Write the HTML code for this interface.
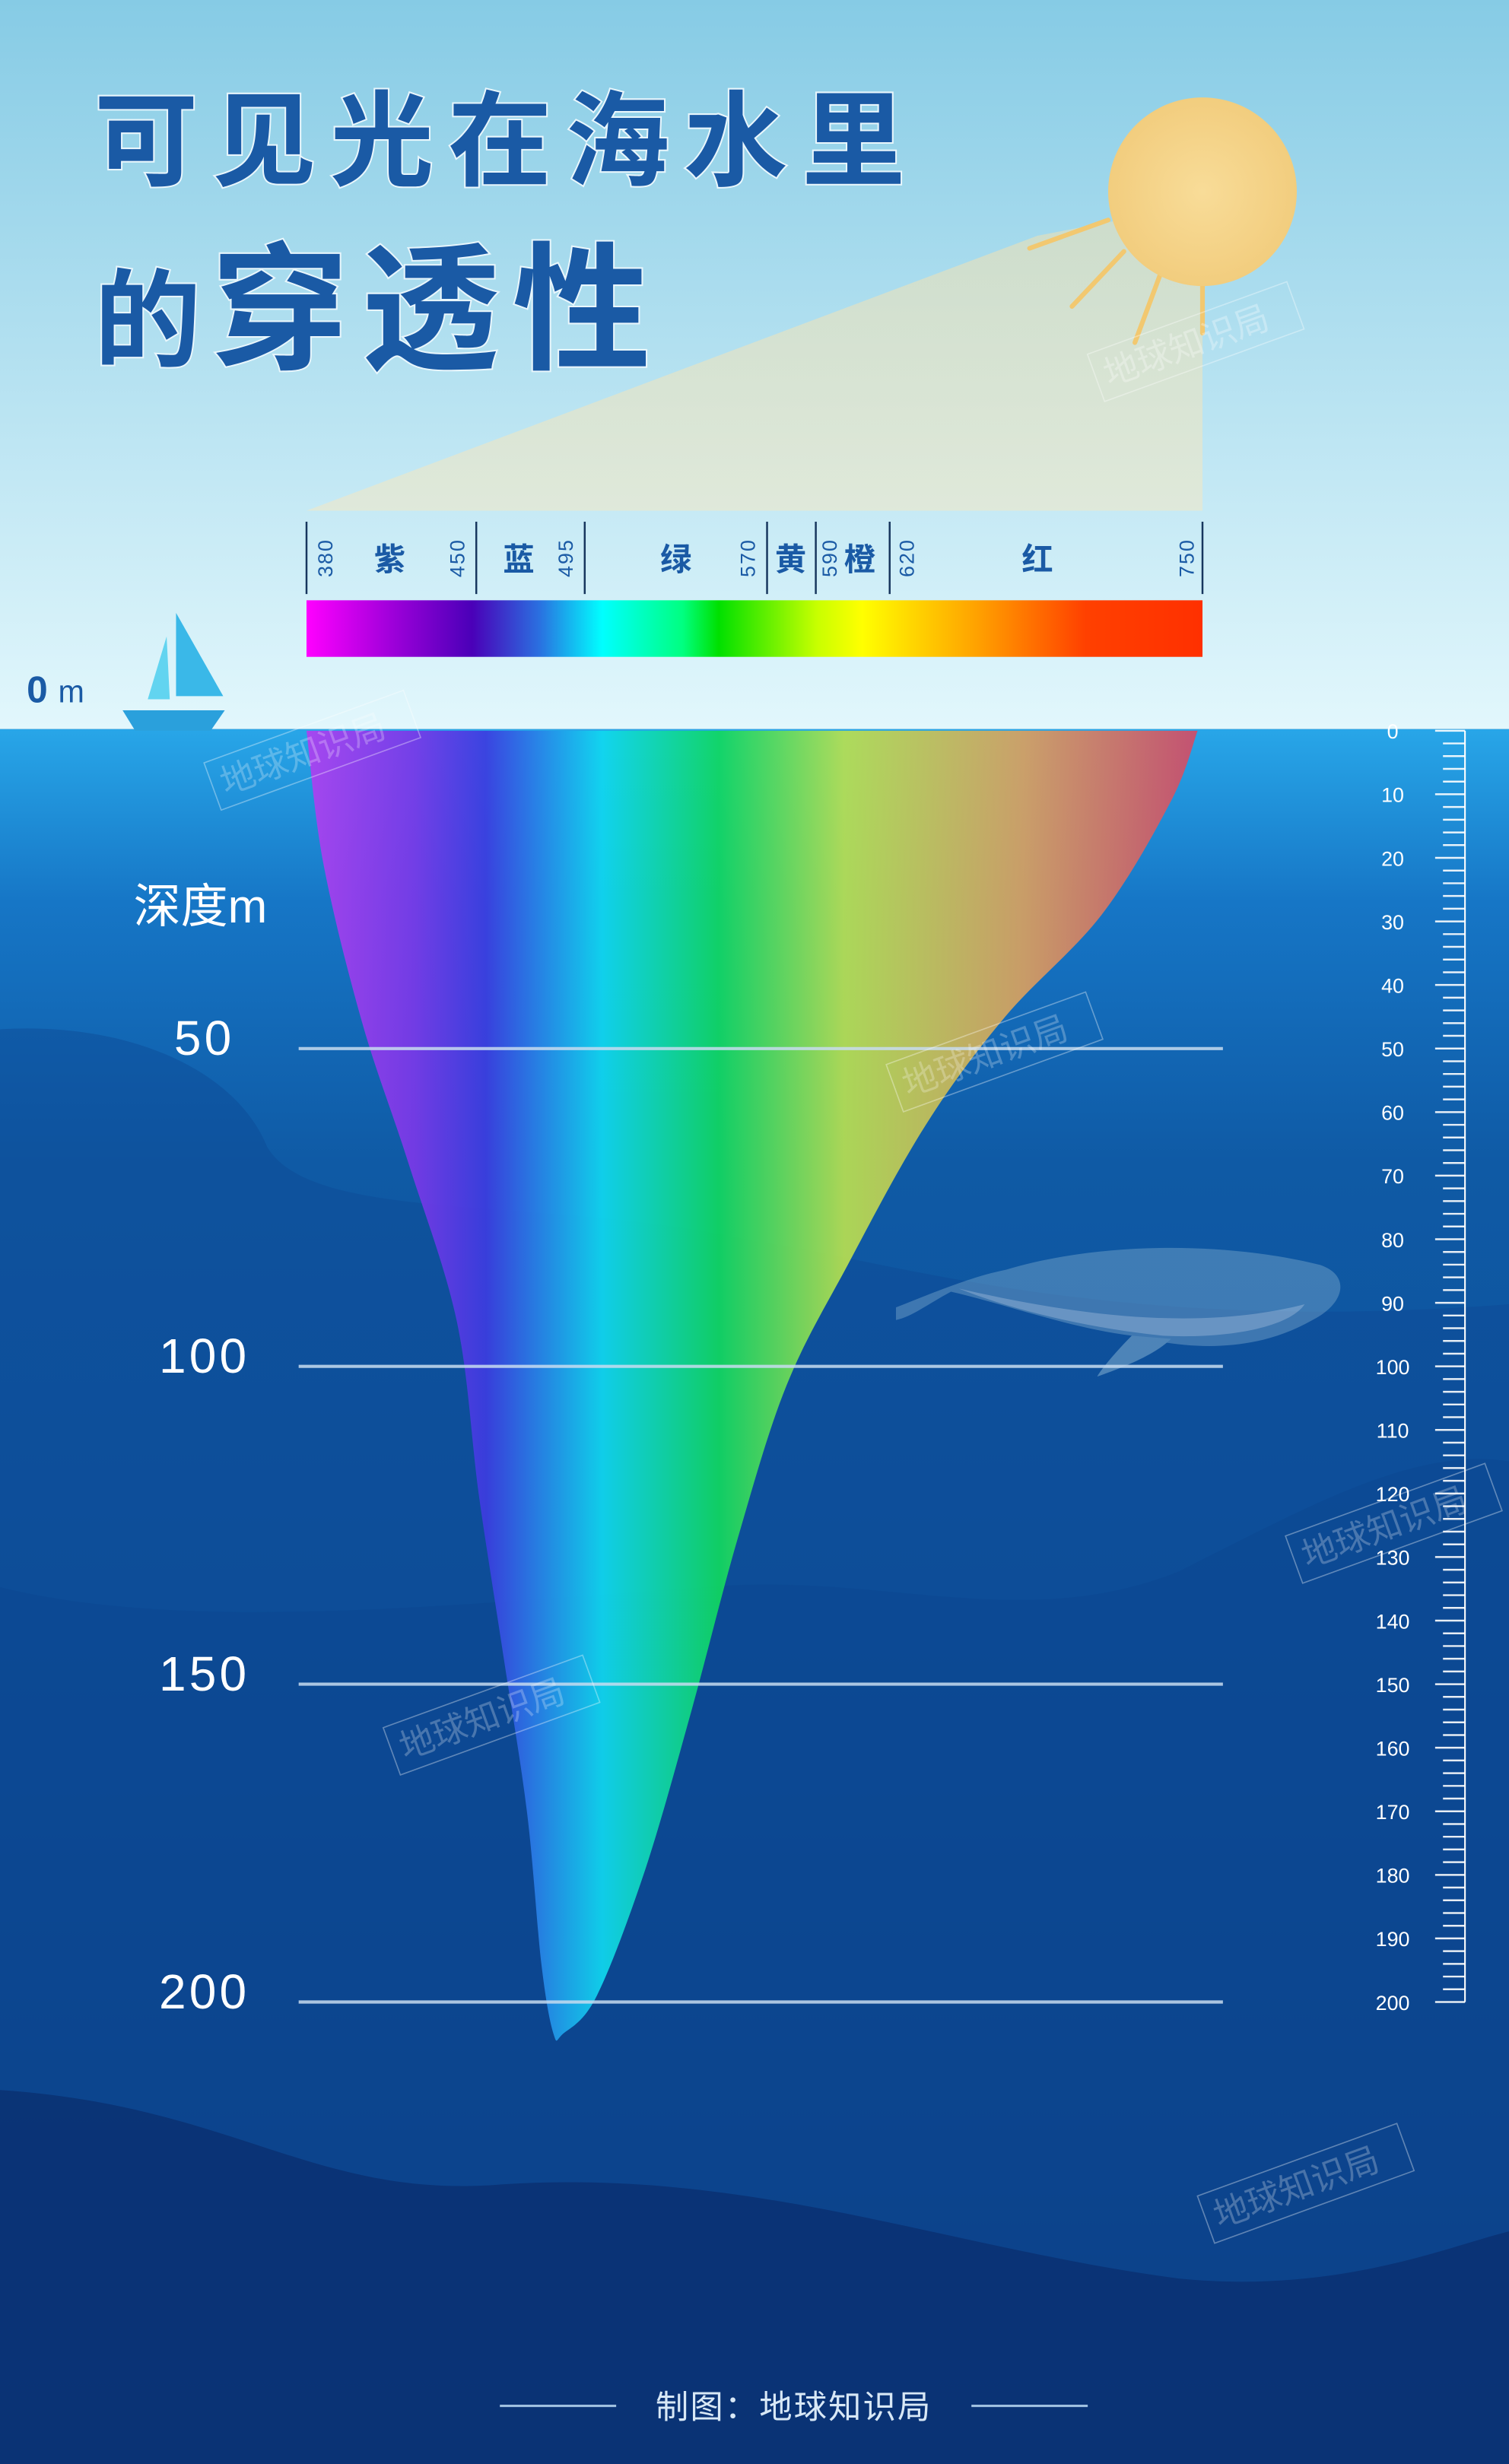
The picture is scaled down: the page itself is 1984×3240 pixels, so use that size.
<!DOCTYPE html>
<html><head><meta charset="utf-8">
<style>
html,body{margin:0;padding:0;background:#0d4c92;}
svg{display:block;font-family:"Liberation Sans","Noto Sans CJK SC",sans-serif;}
</style></head>
<body>
<svg id="chart" width="1984" height="3240" viewBox="0 0 960 1568" preserveAspectRatio="none" xmlns="http://www.w3.org/2000/svg">
<defs>
 <linearGradient id="sky" x1="0" y1="0" x2="0" y2="1">
  <stop offset="0" stop-color="#86cbe5"/><stop offset="1" stop-color="#e2f7fc"/>
 </linearGradient>
 <linearGradient id="water" x1="0" y1="0" x2="0" y2="1">
  <stop offset="0" stop-color="#28a6e8"/><stop offset="0.1" stop-color="#1676c6"/>
  <stop offset="0.25" stop-color="#0f5aa5"/><stop offset="0.6" stop-color="#0d4d98"/>
  <stop offset="1" stop-color="#0a3272"/>
 </linearGradient>
 <linearGradient id="spec" gradientUnits="userSpaceOnUse" x1="195" y1="0" x2="765" y2="0">
  <stop offset="0" stop-color="#ff00ff"/><stop offset="0.1" stop-color="#9a00d8"/>
  <stop offset="0.185" stop-color="#4a00b8"/><stop offset="0.26" stop-color="#2a70e0"/>
  <stop offset="0.33" stop-color="#00ffff"/><stop offset="0.42" stop-color="#00ff80"/>
  <stop offset="0.46" stop-color="#00e000"/><stop offset="0.57" stop-color="#c8ff00"/>
  <stop offset="0.62" stop-color="#ffff00"/><stop offset="0.75" stop-color="#ffa000"/>
  <stop offset="0.87" stop-color="#ff4000"/><stop offset="1" stop-color="#ff3000"/>
 </linearGradient>
 <linearGradient id="funnelGrad" gradientUnits="userSpaceOnUse" x1="195" y1="0" x2="765" y2="0">
  <stop offset="0" stop-color="#b040f0"/><stop offset="0.12" stop-color="#7a38e8"/>
  <stop offset="0.2" stop-color="#3c3ce0"/><stop offset="0.33" stop-color="#10d8f0"/>
  <stop offset="0.46" stop-color="#10d860"/><stop offset="0.6" stop-color="#b8e050"/>
  <stop offset="0.8" stop-color="#d8a060"/><stop offset="1" stop-color="#d04868"/>
 </linearGradient>
 <linearGradient id="beam" x1="0" y1="0" x2="0" y2="1">
  <stop offset="0" stop-color="#f0e0b0" stop-opacity="0.55"/><stop offset="1" stop-color="#f0e8c8" stop-opacity="0.6"/>
 </linearGradient>
 <radialGradient id="sunG"><stop offset="0" stop-color="#f8dc98"/><stop offset="1" stop-color="#f2cd7e"/></radialGradient>
</defs>

<rect x="0" y="0" width="960" height="464" fill="url(#sky)"/>
<rect x="0" y="464" width="960" height="1104" fill="url(#water)"/>
<path d="M0 655 C80 650 150 680 170 730 C200 780 350 760 480 790 C560 800 700 850 960 830 L960 1568 L0 1568Z" fill="#0d4a94" opacity="0.45"/>
<path d="M0 1010 C120 1040 300 1020 450 1010 C560 1000 650 1040 750 1000 C830 960 900 920 960 930 L960 1568 L0 1568Z" fill="#0b4590" opacity="0.5"/>
<path d="M0 1330 C150 1340 200 1400 320 1390 C480 1380 600 1430 750 1450 C850 1460 920 1430 960 1420 L960 1568 L0 1568Z" fill="#0a3070" opacity="0.8"/>

<polygon points="195,325 765,325 765,130 660,150" fill="url(#beam)"/>
<g>
 <g stroke="#f2c870" stroke-width="3" stroke-linecap="round">
  <line x1="705" y1="140" x2="655" y2="158"/><line x1="715" y1="160" x2="682" y2="195"/>
  <line x1="738" y1="175" x2="722" y2="218"/><line x1="765" y1="182" x2="765" y2="212"/>
 </g>
 <circle cx="765" cy="122" r="60" fill="url(#sunG)"/>
</g>

<g fill="#1a5aa5" font-weight="bold" style="paint-order:stroke" stroke="#e8f6fc" stroke-width="2">
 <text x="60" y="113" font-size="66" letter-spacing="9">可见光在海水里</text>
 <text x="60" y="228" font-size="68"><tspan>的</tspan><tspan font-size="88" dx="6" letter-spacing="8">穿透性</tspan></text>
</g>

<g id="spectrum"></g>
<rect x="195" y="382" width="570" height="36" fill="url(#spec)"/>

<g>
 <polygon points="112,390 142,443 112,443" fill="#3ab8e8"/>
 <polygon points="106,405 108,445 94,445" fill="#62d4f0"/>
 <polygon points="78,452 143,452 134,465 86,465" fill="#2aa0dc"/>
</g>
<text x="17" y="447" font-size="24" fill="#1a5aa5" font-weight="bold">0 <tspan font-size="20" font-weight="normal">m</tspan></text>

<path id="funnel" fill="url(#funnelGrad)" opacity="0.92"/>

<g opacity="0.45">
 <path d="M570 832 C600 820 620 812 640 808 C700 790 780 790 840 805 C860 812 855 830 835 840 C800 860 760 860 720 850 C680 845 640 830 605 822 C590 830 580 838 570 840Z" fill="#7aa8cc"/>
 <path d="M610 820 C680 836 760 848 830 830 C820 845 780 852 740 850 C700 846 650 836 610 820Z" fill="#d8e8f4"/>
 <path d="M720 850 C710 860 700 872 698 876 C715 870 735 862 745 852Z" fill="#9cc4dc"/>
</g>

<g id="depthLines"></g>
<text x="85" y="587" font-size="30" fill="#ffffff">深度m</text>
<g id="ruler"></g>

<g font-size="22" fill="none" stroke="#ffffff" stroke-opacity="0.35" stroke-width="0.8">
 <g transform="translate(700,248) rotate(-20)"><rect x="0" y="-24" width="135" height="32" stroke="#ffffff"/><text x="6" y="0" fill="#ffffff" fill-opacity="0.3" stroke="none">地球知识局</text></g>
 <g transform="translate(138,508) rotate(-20)"><rect x="0" y="-24" width="135" height="32" stroke="#ffffff"/><text x="6" y="0" fill="#ffffff" fill-opacity="0.25" stroke="none">地球知识局</text></g>
 <g transform="translate(572,700) rotate(-20)"><rect x="0" y="-24" width="135" height="32" stroke="#ffffff"/><text x="6" y="0" fill="#ffffff" fill-opacity="0.25" stroke="none">地球知识局</text></g>
 <g transform="translate(826,1000) rotate(-20)"><rect x="0" y="-24" width="135" height="32" stroke="#ffffff"/><text x="6" y="0" fill="#ffffff" fill-opacity="0.25" stroke="none">地球知识局</text></g>
 <g transform="translate(252,1122) rotate(-20)"><rect x="0" y="-24" width="135" height="32" stroke="#ffffff"/><text x="6" y="0" fill="#ffffff" fill-opacity="0.25" stroke="none">地球知识局</text></g>
 <g transform="translate(770,1420) rotate(-20)"><rect x="0" y="-24" width="135" height="32" stroke="#ffffff"/><text x="6" y="0" fill="#ffffff" fill-opacity="0.25" stroke="none">地球知识局</text></g>
</g>

<g>
 <line x1="318" y1="1531" x2="392" y2="1531" stroke="#9fc0e0" stroke-width="1.5"/>
 <line x1="618" y1="1531" x2="692" y2="1531" stroke="#9fc0e0" stroke-width="1.5"/>
 <text x="505" y="1539" font-size="21" fill="#d8e8f6" text-anchor="middle" letter-spacing="1">制图：地球知识局</text>
</g>
</svg>

<script>
// ---- data ----
var bandWavelengths = [380, 450, 495, 570, 590, 620, 750];
var bandNames = ["紫", "蓝", "绿", "黄", "橙", "红"];
var depthMarks = [50, 100, 150, 200];
var rulerLabels = [0,10,20,30,40,50,60,70,80,90,100,110,120,130,140,150,160,170,180,190,200];
var funnelWavelengths = [380,387,403,422,442,451,461,471,477,482,486,500,520,539,558,578,603,635,668,708,737,748];
var funnelDepths =      [0,  21, 46, 68, 93, 120,145,170,194,205,205,199,179,154,127,103,84, 62, 45, 29, 11, 0];

// ---- axis functions ----
var NS = "http://www.w3.org/2000/svg";
var bandX = [195, 303, 372, 488, 519, 566, 765];
var numOffsets = [12, -12, -12, -12, 9, 11, -10];
var nameX = [248, 330, 430, 503, 547, 660];
function xWl(w){
  for(var i=0;i<bandWavelengths.length-1;i++){
    var a=bandWavelengths[i], b=bandWavelengths[i+1];
    if(w<=b || i===bandWavelengths.length-2){
      return bandX[i]+(w-a)/(b-a)*(bandX[i+1]-bandX[i]);
    }
  }
  return bandX[bandX.length-1];
}
function yDepth(d){ return 465 + d*4.045; }
function mk(tag, attrs, parent){ var e=document.createElementNS(NS,tag); for(var k in attrs){ e.setAttribute(k,String(attrs[k])); } parent.appendChild(e); return e; }

// spectrum legend
var spec = document.getElementById("spectrum");
bandWavelengths.forEach(function(w,i){
  var x = xWl(w);
  var l = mk("line",{x1:x,y1:332,x2:x,y2:378,stroke:"#17365e","stroke-width":1.2},spec);
  
  
  var tx = x + numOffsets[i];
  var t = mk("text",{x:tx,y:355,"font-size":13,fill:"#1a5aa5","text-anchor":"middle","dominant-baseline":"central",transform:"rotate(-90 "+tx+" 355)","letter-spacing":1},spec);
  t.textContent = String(w);
  
  
});
bandNames.forEach(function(n,i){
  var t = mk("text",{x:nameX[i],y:363,"font-size":20,"font-weight":"bold",fill:"#1a5aa5","text-anchor":"middle"},spec);
  t.textContent = n;
  
  
});

// funnel (smoothed through data points)
var pts = funnelWavelengths.map(function(w,i){ return [xWl(w), yDepth(funnelDepths[i])]; });
var d = "M" + pts[0][0].toFixed(1) + " " + pts[0][1].toFixed(1);
for(var i=0;i<pts.length-1;i++){
  var p0 = pts[Math.max(0,i-1)], p1 = pts[i], p2 = pts[i+1], p3 = pts[Math.min(pts.length-1,i+2)];
  var c1x = p1[0]+(p2[0]-p0[0])/6, c1y = p1[1]+(p2[1]-p0[1])/6;
  var c2x = p2[0]-(p3[0]-p1[0])/6, c2y = p2[1]-(p3[1]-p1[1])/6;
  d += " C"+c1x.toFixed(1)+" "+c1y.toFixed(1)+" "+c2x.toFixed(1)+" "+c2y.toFixed(1)+" "+p2[0].toFixed(1)+" "+p2[1].toFixed(1);
}
document.getElementById("funnel").setAttribute("d", d+" Z");

// depth lines
var dl = document.getElementById("depthLines");
depthMarks.forEach(function(m){
  var y = yDepth(m);
  var ln = mk("line",{x1:190,y1:y,x2:778,y2:y,stroke:"#c8dcf0","stroke-width":2,"stroke-opacity":0.85},dl);
  
  
  var t = mk("text",{x:130,y:y+4,"font-size":31,fill:"#ffffff","text-anchor":"middle","letter-spacing":2},dl);
  t.textContent = String(m);
  
  
});

// ruler
var ru = document.getElementById("ruler");
for(var v=0; v<=200; v+=2){
  var y = yDepth(v);
  var major = v%10===0;
  var tk = mk("line",{x1:major?913:918,y1:y,x2:932,y2:y,stroke:"#ffffff","stroke-width":1.2,"stroke-opacity":0.9},ru);
  
  
}
mk("line",{x1:932,y1:yDepth(0),x2:932,y2:yDepth(200),stroke:"#ffffff","stroke-width":1},ru);
rulerLabels.forEach(function(v){
  var t = mk("text",{x:886,y:yDepth(v)+5,"font-size":13,fill:"#ffffff","text-anchor":"middle"},ru);
  t.textContent = String(v);
  
  
});
</script>
</body></html>
